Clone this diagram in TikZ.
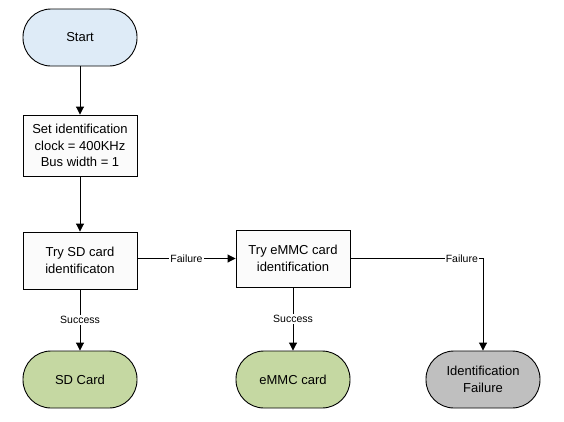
\documentclass[tikz,border=0pt]{standalone}
\usepackage{fontspec}
\setmainfont{Liberation Sans}
\usetikzlibrary{arrows.meta}

\definecolor{startblue}{HTML}{DEEBF7}
\definecolor{cardgreen}{HTML}{C5D8A2}
\definecolor{failgray}{HTML}{BFBFBF}
\definecolor{boxwhite}{HTML}{FBFBFB}

\tikzset{
  terminal/.style={draw, line width=0.9pt, rounded corners=28pt,
    minimum width=114pt, minimum height=57pt, align=center,
    font=\fontsize{13}{16.7}\selectfont},
  stepbox/.style={draw, line width=0.9pt, fill=boxwhite,
    minimum width=114pt, minimum height=57pt, align=center,
    font=\fontsize{13}{16.7}\selectfont},
  flow/.style={draw, line width=0.9pt, -{Triangle[width=8pt,length=8pt]}},
  edgelabel/.style={fill=white, inner sep=1pt, font=\fontsize{10.5}{12}\selectfont}
}

\begin{document}
\begin{tikzpicture}[x=1pt, y=-1pt]
  \useasboundingbox (0,0) rectangle (564,421);

  % nodes
  \node[terminal, fill=startblue] (start) at (80,37.5) {Start};
  \node[stepbox, minimum height=61pt] (setclk) at (80,145.5)
    {Set identification\\clock = 400KHz\\Bus width = 1};
  \node[stepbox] (trysd) at (80,260.5) {Try SD card\\identificaton};
  \node[stepbox] (tryemmc) at (293,258.5) {Try eMMC card\\identification};
  \node[terminal, fill=cardgreen] (sdcard) at (80,379.5) {SD Card};
  \node[terminal, fill=cardgreen] (emmccard) at (293,379.5) {eMMC card};
  \node[terminal, fill=failgray] (idfail) at (483,379.5)
    {Identification\\Failure};

  % connectors
  \draw[flow] (start) -- (setclk);
  \draw[flow] (setclk) -- (trysd);
  \draw[flow] (trysd.east |- tryemmc.west) -- node[edgelabel] {Failure} (tryemmc.west);
  \draw[flow] (trysd) -- node[edgelabel] {Success} (sdcard);
  \draw[flow] (tryemmc) -- node[edgelabel] {Success} (emmccard);
  \draw[flow] (tryemmc.east) -| node[edgelabel, pos=0.42] {Failure} (idfail.north);
\end{tikzpicture}
\end{document}
